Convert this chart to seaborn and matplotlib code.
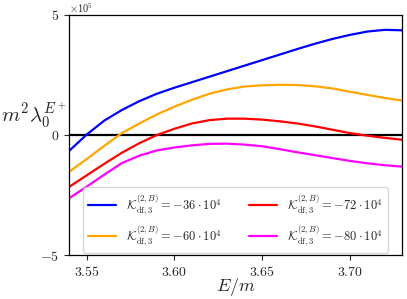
import numpy as np
import pandas as pd
import matplotlib
matplotlib.use("Agg")
import matplotlib.pyplot as plt
import seaborn as sns

# valores (unidades de 1e5)
energia = [3.54, 3.55, 3.56, 3.57, 3.58, 3.59, 3.60, 3.61, 3.62, 3.63,
           3.64, 3.65, 3.66, 3.67, 3.68, 3.69, 3.70, 3.71, 3.72, 3.73]
lam_m36 = [-0.66, 0.02, 0.60, 1.04, 1.41, 1.72, 1.97, 2.20, 2.43, 2.66,
           2.89, 3.12, 3.35, 3.58, 3.80, 4.00, 4.17, 4.31, 4.38, 4.36]
lam_m60 = [-1.53, -1.00, -0.45, 0.08, 0.48, 0.86, 1.18, 1.47, 1.72, 1.90,
           2.02, 2.07, 2.09, 2.08, 2.03, 1.94, 1.80, 1.67, 1.54, 1.43]
lam_m72 = [-2.16, -1.68, -1.20, -0.74, -0.34, 0.00, 0.26, 0.48, 0.62, 0.68,
           0.68, 0.64, 0.57, 0.48, 0.36, 0.22, 0.08, -0.03, -0.12, -0.20]
lam_m80 = [-2.63, -2.15, -1.65, -1.17, -0.86, -0.64, -0.52, -0.43, -0.37, -0.36,
           -0.40, -0.47, -0.59, -0.72, -0.84, -0.96, -1.08, -1.18, -1.26, -1.32]

k_valores = [-36, -60, -72, -80]
cores = ["blue", "orange", "red", "magenta"]
series = [lam_m36, lam_m60, lam_m72, lam_m80]
ticks_x = [3.55, 3.60, 3.65, 3.70]
ticks_y = [-5, 0, 5]


def rotulo(k):
    return r"$\mathcal{K}_{\mathrm{df},3}^{(2,B)} = %d \cdot 10^4$" % k


def main():
    sns.set_style("ticks")
    plt.rcParams["mathtext.fontset"] = "cm"
    plt.rcParams["font.family"] = ["DejaVu Serif"]

    linhas = []
    for k, vals in zip(k_valores, series):
        for e, v in zip(energia, vals):
            linhas.append({"E": e, "lam": v, "K": rotulo(k)})
    df = pd.DataFrame(linhas)

    fig = plt.figure(figsize=(4.07, 2.99), dpi=100)
    ax = fig.add_axes([0.170, 0.147, 0.817, 0.803])

    ax.axhline(0, color="black", lw=1.6, zorder=1)
    sns.lineplot(data=df, x="E", y="lam", hue="K",
                 palette=dict(zip([rotulo(k) for k in k_valores], cores)),
                 lw=1.6, ax=ax, zorder=2, solid_joinstyle="round")

    ax.set_xlim(3.540, 3.7295)
    ax.set_ylim(-5, 5)
    ax.set_xticks(ticks_x)
    ax.set_xticklabels([r"$%.2f$" % t for t in ticks_x], fontsize=10)
    ax.set_yticks(ticks_y)
    ax.set_yticklabels([r"$%d$" % t for t in ticks_y], fontsize=10)
    ax.tick_params(length=3.5, width=0.8)
    # fator de escala do eixo y
    ax.text(0.0, 1.0, r"$\times10^{5}$", transform=ax.transAxes,
            fontsize=7.5, ha="left", va="bottom")

    for s in ax.spines.values():
        s.set_color("black")
        s.set_linewidth(0.9)

    ax.set_xlabel(r"$E/m$", fontsize=13, labelpad=-2)
    ax.set_ylabel(r"$m^2\lambda_0^{E^+}$", fontsize=15, rotation=0)
    ax.yaxis.set_label_coords(-0.105, 0.52)

    handles, labels = ax.get_legend_handles_labels()
    ax.legend(handles, labels, ncol=2, loc="lower center", fontsize=9,
              frameon=True, handlelength=2.2, columnspacing=2.2,
              borderaxespad=0.2, bbox_to_anchor=(0.5, 0.0))

    fig.savefig("out.png", dpi=100)
    plt.close(fig)


if __name__ == "__main__":
    main()
